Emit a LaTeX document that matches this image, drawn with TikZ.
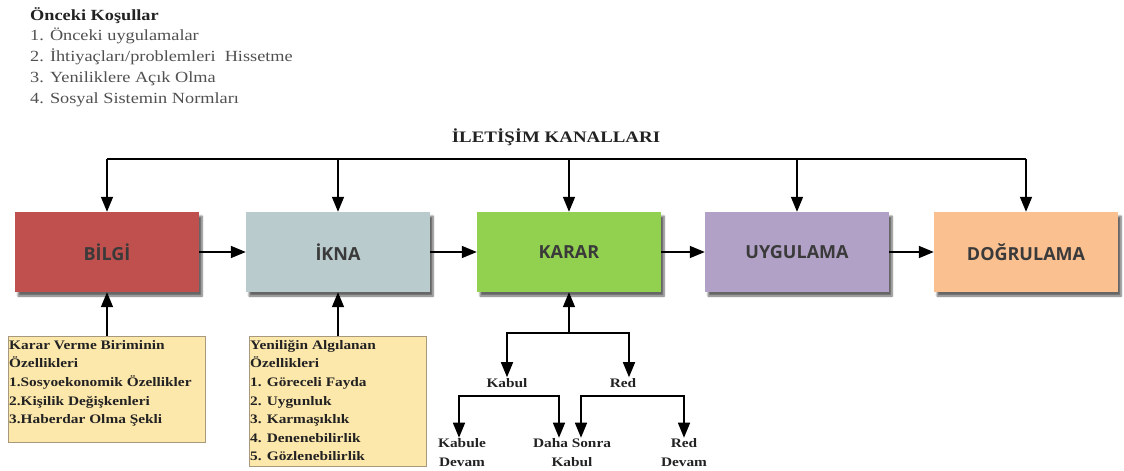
\documentclass[tikz,border=0pt]{standalone}
\usepackage{fontspec}
\setmainfont[FakeStretch=1.18]{Liberation Serif}
\newfontfamily\stagefont{Open Sans}
\usetikzlibrary{arrows.meta,shadows.blur}

\definecolor{stagetext}{HTML}{3A3A3A}
\definecolor{bilgicol}{HTML}{C0504D}
\definecolor{iknacol}{HTML}{B9CBCC}
\definecolor{kararcol}{HTML}{92D050}
\definecolor{uygcol}{HTML}{B2A1C7}
\definecolor{dogcol}{HTML}{FAC090}
\definecolor{notefill}{HTML}{FDE8AC}
\definecolor{noteedge}{HTML}{A8987C}
\definecolor{headtext}{HTML}{222222}
\definecolor{listtext}{HTML}{505050}

\begin{document}
\begin{tikzpicture}[x=1pt,y=-1pt,
  stage/.style={minimum width=184pt, minimum height=80pt, inner sep=0pt,
    font=\stagefont\bfseries\fontsize{18}{20}\selectfont, text=stagetext,
    blur shadow={shadow xshift=3pt, shadow yshift=-4pt, shadow blur steps=6, shadow opacity=60}},
  conn/.style={line width=1.6pt, draw=black},
  arr/.style={conn, -{Triangle[width=12pt,length=15pt]}},
  notebox/.style={draw=noteedge, fill=notefill, line width=0.9pt, inner sep=0pt},
  notetext/.style={anchor=north west, inner sep=0pt, align=left, text=headtext,
    font=\bfseries\fontsize{13}{18.6}\selectfont},
  leaf/.style={inner sep=1pt, align=center, text=headtext,
    font=\bfseries\fontsize{13}{19}\selectfont},
]
\useasboundingbox (0,0) rectangle (1124,471);

% prior conditions list
\node[anchor=north west, inner sep=0pt, align=left, text=listtext,
  font=\fontsize{15.5}{20.8}\selectfont] (prior) at (30,7)
  {{\color{headtext}\bfseries Önceki Koşullar}\\
   1. Önceki uygulamalar\\
   2. İhtiyaçları/problemleri\ \ Hissetme\\
   3. Yeniliklere Açık Olma\\
   4. Sosyal Sistemin Normları};

% communication channels
\node[text=headtext, font=\bfseries\fontsize{16}{20}\selectfont, inner sep=0pt] (channels) at (556,137) {İLETİŞİM KANALLARI};

% stages
\node[stage, fill=bilgicol] (bilgi) at (107,252) {BİLGİ};
\node[stage, fill=iknacol]  (ikna)  at (338,252) {İKNA};
\node[stage, fill=kararcol] (karar) at (569,252) {KARAR};
\node[stage, fill=uygcol]   (uyg)   at (797,252) {UYGULAMA};
\node[stage, fill=dogcol]   (dog)   at (1026,252) {DOĞRULAMA};

\draw[arr] (bilgi.east) -- (ikna.west);
\draw[arr] (ikna.east) -- (karar.west);
\draw[arr] (karar.east) -- (uyg.west);
\draw[arr] (uyg.east) -- (dog.west);

% channel bus feeding every stage
\coordinate (bus) at (500,159);
\draw[conn] (bilgi.north |- bus) -- (dog.north |- bus);
\foreach \s in {bilgi,ikna,karar,uyg,dog}
  \draw[arr] (\s.north |- bus) -- (\s.north);

% characteristics boxes
\node[notebox, anchor=north west, minimum width=197pt, minimum height=106pt] (unit) at (8,336) {};
\node[notetext] (unittext) at ([xshift=1pt,yshift=-4pt]unit.north west)
  {Karar Verme Biriminin\\Özellikleri\\1.Sosyoekonomik Özellikler\\2.Kişilik Değişkenleri\\3.Haberdar Olma Şekli};
\node[notebox, anchor=north west, minimum width=177pt, minimum height=130pt] (innov) at (249,336) {};
\node[notetext] (innovtext) at ([xshift=1pt,yshift=-4pt]innov.north west)
  {Yeniliğin Algılanan\\Özellikleri\\1. Göreceli Fayda\\2. Uygunluk\\3. Karmaşıklık\\4. Denenebilirlik\\5. Gözlenebilirlik};

\draw[arr] (bilgi.south |- unit.north) -- (bilgi.south);
\draw[arr] (ikna.south |- innov.north) -- (ikna.south);

% decision outcomes
\node[leaf] (kabul) at (507,383) {Kabul};
\node[leaf] (red) at (623,383) {Red};
\node[leaf] (kdevam) at (462,453) {Kabule\\Devam};
\node[leaf] (sonra) at (572,453) {Daha Sonra\\Kabul};
\node[leaf] (rdevam) at (684,453) {Red\\Devam};

\coordinate (split) at (569,333);
\draw[arr] (split) -- (karar.south);
\draw[arr] (split) -| (kabul.north);
\draw[arr] (split) -| ([xshift=6pt]red.north);

\coordinate (kabulbar) at (509,396);
\coordinate (redbar) at (630,396);
\draw[arr] (kabulbar) -| ([xshift=-3pt]kdevam.north);
\draw[arr] (kabulbar) -| ([xshift=-13pt]sonra.north);
\draw[arr] (redbar) -| ([xshift=9pt]sonra.north);
\draw[arr] (redbar) -| (rdevam.north);
\end{tikzpicture}
\end{document}
